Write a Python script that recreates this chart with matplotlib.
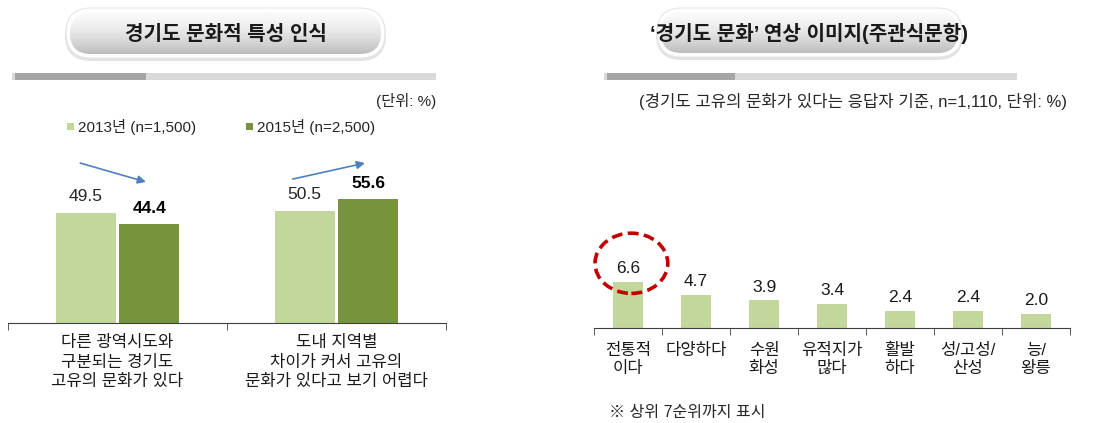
import numpy as np
import matplotlib
matplotlib.use('Agg')
import matplotlib.pyplot as plt
from matplotlib.patches import FancyBboxPatch, Ellipse, Rectangle

plt.rcParams['font.family'] = ['Liberation Sans', 'Noto Sans CJK KR', 'DejaVu Sans']

# left chart data
left_cats = ['다른 광역시도와\n구분되는 경기도\n고유의 문화가 있다',
             '도내 지역별\n차이가 커서 고유의\n문화가 있다고 보기 어렵다']
vals_2013 = [49.5, 50.5]
vals_2015 = [44.4, 55.6]
series_names = ['2013년 (n=1,500)', '2015년 (n=2,500)']

# right chart data
right_cats = ['전통적\n이다', '다양하다', '수원\n화성', '유적지가\n많다',
              '활발\n하다', '성/고성/\n산성', '능/\n왕릉']
right_vals = [6.6, 4.7, 3.9, 3.4, 2.4, 2.4, 2.0]

light = '#c3d69b'
dark = '#77933c'
axis_col = '#404040'
W, H = 1099, 423

fig = plt.figure(figsize=(W / 100, H / 100), dpi=100)

# overlay in pixel coordinates for decorations
bg = fig.add_axes([0, 0, 1, 1])
bg.axis('off')

grad = np.linspace(0, 1, 100) ** 1.5
grad = (0.98 - 0.24 * grad).reshape(-1, 1)


def pill(x0, x1, y0, y1, text):
    h = y1 - y0
    sh = FancyBboxPatch((x0 - 1, y0 + 1), x1 - x0 + 2, h + 2,
                        boxstyle=f'round,pad=0,rounding_size={h / 2 + 1}',
                        fc='#cfcfcf', ec='none', alpha=0.6, zorder=1)
    bg.add_patch(sh)
    outer = FancyBboxPatch((x0, y0), x1 - x0, h,
                           boxstyle=f'round,pad=0,rounding_size={h / 2}',
                           fc='white', ec='#e6e6e6', lw=0.8, zorder=2)
    bg.add_patch(outer)
    inner = FancyBboxPatch((x0 + 4, y0 + 4), x1 - x0 - 8, h - 8,
                           boxstyle=f'round,pad=0,rounding_size={h / 2 - 4}',
                           fc='none', ec='none', zorder=2)
    bg.add_patch(inner)
    im = bg.imshow(grad, cmap='gray', vmin=0, vmax=1, aspect='auto',
                   extent=(x0 + 4, x1 - 4, y1 - 4, y0 + 4), origin='upper',
                   zorder=3)
    im.set_clip_path(inner)
    bg.text((x0 + x1) / 2, (y0 + y1) / 2 + 1, text, ha='center', va='center',
            fontsize=14.5, fontweight='bold', color='#1a1a1a', zorder=4)


def progress(x0, x1, x2, y):
    bg.add_patch(Rectangle((x0, y), x1 - x0, 7, fc='#d9d9d9', ec='none'))
    bg.add_patch(Rectangle((x0 + 3, y), x2 - x0 - 3, 7, fc='#a6a6a6', ec='none'))


pill(66, 385, 8, 58, '경기도 문화적 특성 인식')
pill(657, 962, 8, 57, '‘경기도 문화’ 연상 이미지(주관식문항)')
progress(12, 436, 146, 73)
progress(604, 1017, 735, 73)

bg.text(436, 101, '(단위: %)', ha='right', va='center', fontsize=11, color='#262626')
bg.add_patch(Rectangle((67, 123), 7, 7, fc=light, ec='none'))
bg.add_patch(Rectangle((246, 123), 7, 7, fc=dark, ec='none'))
bg.text(78, 127, series_names[0], ha='left', va='center', fontsize=11, color='#262626')
bg.text(257, 127, series_names[1], ha='left', va='center', fontsize=11, color='#262626')
bg.text(1067, 101, '(경기도 고유의 문화가 있다는 응답자 기준, n=1,110, 단위: %)',
        ha='right', va='center', fontsize=12, color='#262626')
bg.text(609, 412, '※ 상위 7순위까지 표시', ha='left', va='center', fontsize=11.5,
        color='#262626')
bg.set_xlim(0, W)
bg.set_ylim(H, 0)

# left chart
ax1 = fig.add_axes([8 / W, (H - 322.7) / H, 438 / W, 162 / H])
ax1.set_facecolor('none')
x = np.arange(len(left_cats))
bw = 0.274
b1 = ax1.bar(x - 0.146, vals_2013, bw, color=light)
b2 = ax1.bar(x + 0.146, vals_2015, bw, color=dark)
ax1.set_xlim(-0.5, 1.5)
ax1.set_ylim(0, 162 / 2.22)
for t in ax1.bar_label(b1, fmt='%.1f', padding=6, fontsize=12.5):
    t.set_color('#262626')
for t in ax1.bar_label(b2, fmt='%.1f', padding=6, fontsize=12.5, fontweight='bold'):
    t.set_color('black')
ax1.annotate('', xy=(0.13, 63.4), xytext=(-0.17, 71.9),
             arrowprops=dict(arrowstyle='-|>', color='#4f81bd', lw=1.2,
                             mutation_scale=12, shrinkA=0, shrinkB=0),
             annotation_clip=False)
ax1.annotate('', xy=(1.13, 71.9), xytext=(0.80, 64.7),
             arrowprops=dict(arrowstyle='-|>', color='#4f81bd', lw=1.2,
                             mutation_scale=12, shrinkA=0, shrinkB=0),
             annotation_clip=False)
ax1.set_xticks(x)
ax1.set_xticklabels(left_cats, fontsize=12, linespacing=1.38, color='#1a1a1a')
ax1.set_xticks(np.arange(-0.5, len(left_cats)), minor=True)
ax1.tick_params(axis='x', which='major', length=0, pad=9)
ax1.tick_params(axis='x', which='minor', length=5, color=axis_col, direction='out')
ax1.set_yticks([])
for s in ['top', 'right', 'left']:
    ax1.spines[s].set_visible(False)
ax1.spines['bottom'].set_color(axis_col)

# right chart
ax2 = fig.add_axes([594 / W, (H - 327.7) / H, 476 / W, 100 / H])
ax2.set_facecolor('none')
xr = np.arange(len(right_cats))
b3 = ax2.bar(xr, right_vals, 0.44, color=light)
ax2.set_xlim(-0.5, len(right_cats) - 0.5)
ax2.set_ylim(0, 100 / 7.0)
for t in ax2.bar_label(b3, fmt='%.1f', padding=4, fontsize=12.5):
    t.set_color('#1a1a1a')
ax2.add_patch(Ellipse((xr[0] + 0.05, right_vals[0] + 2.6), 1.07, 8.6, fill=False,
                      ec='#c00000', lw=2.6, ls=(0, (3, 1.5)), clip_on=False))
ax2.set_xticks(xr)
ax2.set_xticklabels(right_cats, fontsize=12, linespacing=1.25, color='#1a1a1a')
ax2.set_xticks(np.arange(-0.5, len(right_cats)), minor=True)
ax2.tick_params(axis='x', which='major', length=0, pad=11)
ax2.tick_params(axis='x', which='minor', length=5, color=axis_col, direction='out')
ax2.set_yticks([])
for s in ['top', 'right', 'left']:
    ax2.spines[s].set_visible(False)
ax2.spines['bottom'].set_color(axis_col)

fig.savefig('out.png', dpi=100)
